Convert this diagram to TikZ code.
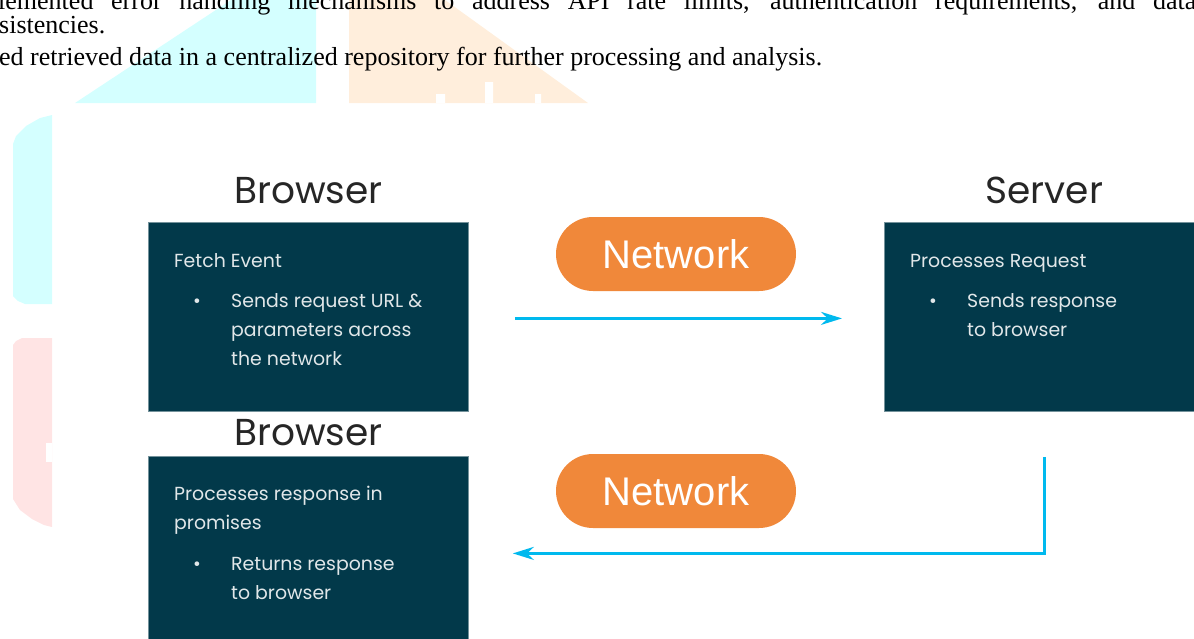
\documentclass[tikz,border=0pt]{standalone}
\usepackage{fontspec}
\setmainfont{Poppins}
\newfontfamily\netfont{Liberation Sans}
\newfontfamily\docfont{Liberation Serif}
\usetikzlibrary{arrows.meta,positioning}
\definecolor{boxfill}{HTML}{02394A}
\definecolor{netorange}{HTML}{F0883A}
\definecolor{flowcyan}{HTML}{00B9EE}
\definecolor{titlegray}{HTML}{262626}
\definecolor{markcyan}{HTML}{D4FFFF}
\definecolor{markorange}{HTML}{FFEEDC}
\definecolor{markpink}{HTML}{FFE4E4}

\begin{document}
\begin{tikzpicture}[x=1pt, y=-1pt, box/.style={fill=boxfill, draw=boxfill!55!white, line width=0.8pt, minimum width=320pt, minimum height=189pt, inner sep=0pt, anchor=north west}, title/.style={font=\fontsize{37.5}{40}\selectfont, text=titlegray, inner sep=0pt, anchor=base}, info/.style={font=\fontsize{18.9}{28.7}\selectfont, text=white!88!boxfill, inner sep=0pt, anchor=base west}, net/.style={fill=netorange, rounded corners=37pt, minimum width=240pt, minimum height=74pt, text=white, font=\netfont\fontsize{40}{44}\selectfont}, arr/.style={-{Stealth[length=21pt, width=13pt]}, line width=2.8pt, draw=flowcyan}, doc/.style={font=\docfont\fontsize{26}{28}\selectfont, inner sep=0pt, anchor=base west}]
\clip (0,0) rectangle (1194,638);
\fill[markcyan] (75,103) -- (231,0) -- (316,0) -- (316,103) -- cycle;
\fill[markorange] (349,0) -- (445,0) -- (588,103) -- (349,103) -- cycle;
\fill[white] (436,94) rectangle (445,103) (485,82) rectangle (493,103) (535,94) rectangle (541,103);
\fill[markcyan] (52,115) -- (40,118) -- (26,126) -- (16,136) -- (13,144) -- (13,296) -- (18,301) -- (25,304) -- (52,304) -- cycle;
\fill[markpink] (13,345) -- (16,341) -- (22,338) -- (52,338) -- (52,527) -- (44,525) -- (32,519) -- (20,510) -- (13,499) -- cycle;
\fill[white] (46,443) rectangle (52,462);
\node[doc] (line1) at (-2,9) {\makebox[1198pt][s]{lemented error handling mechanisms to address API rate limits, authentication requirements, and data}};
\node[doc] (line2) at (-1,33) {sistencies.};
\node[doc] (line3) at (-1,65) {ed retrieved data in a centralized repository for further processing and analysis.};
\node[box] (fetch) at (148,222) {};
\node[box] (proc) at (884,222) {};
\node[box] (promise) at (148,456) {};
\node[title] (browser) at ([yshift=19pt]fetch.north) {Browser};
\node[title] (server) at ([yshift=19pt]proc.north) {Server};
\node[title] (browserb) at ([yshift=11pt]promise.north) {Browser};
\node[info] (fetchtxt) at ([shift={(26pt,-45.5pt)}]fetch.north west) {\begin{tabular}[t]{@{}p{57pt}@{}l@{}}\multicolumn{2}{@{}l@{}}{Fetch Event}\\[11.5pt]\hspace*{19pt}\textbullet & Sends request URL \&\\ & parameters across\\ & the network\end{tabular}};
\node[info] (proctxt) at ([shift={(26pt,-45.5pt)}]proc.north west) {\begin{tabular}[t]{@{}p{57pt}@{}l@{}}\multicolumn{2}{@{}l@{}}{Processes Request}\\[11.5pt]\hspace*{19pt}\textbullet & Sends response\\ & to browser\end{tabular}};
\node[info] (promisetxt) at ([shift={(26pt,-44.5pt)}]promise.north west) {\begin{tabular}[t]{@{}p{57pt}@{}l@{}}\multicolumn{2}{@{}l@{}}{Processes response in}\\\multicolumn{2}{@{}l@{}}{promises}\\[12.5pt]\hspace*{19pt}\textbullet & Returns response\\ & to browser\end{tabular}};
\node[net] (netout) at (676,254) {Network};
\node[net] (netback) at (676,491) {Network};
\draw[arr, shorten <=46pt, shorten >=42pt] ([yshift=-1.5pt]fetch.east) -- ([yshift=-1.5pt]proc.west);
\draw[arr, shorten <=45pt, shorten >=44pt] (proc.south) |- ([yshift=-2.5pt]promise.east);
\end{tikzpicture}
\end{document}
